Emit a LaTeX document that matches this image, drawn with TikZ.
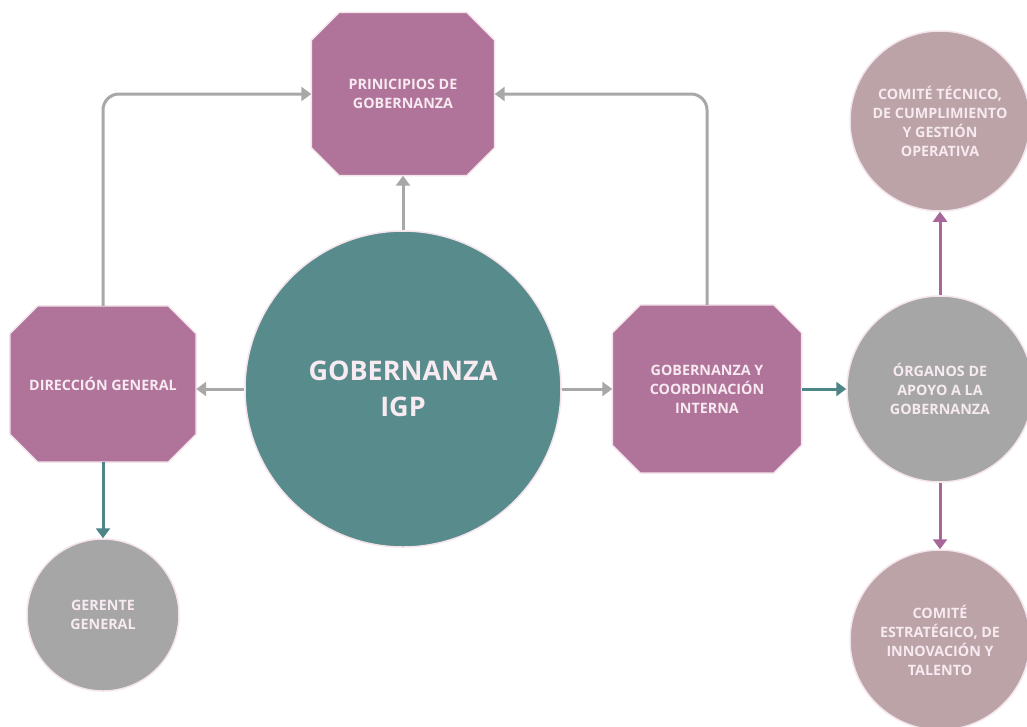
\documentclass[tikz,border=0pt]{standalone}
\usepackage{fontspec}
\setmainfont{Open Sans}
\usetikzlibrary{calc,arrows.meta,backgrounds}
\definecolor{mauve}{HTML}{B0739A}
\definecolor{tealc}{HTML}{588B8B}
\definecolor{grayc}{HTML}{A6A6A6}
\definecolor{rosec}{HTML}{BBA3A7}
\definecolor{txtc}{HTML}{F7EAF1}
\definecolor{arrgray}{HTML}{A8A8A8}
\definecolor{arrteal}{HTML}{4E8586}
\definecolor{arrmauve}{HTML}{A8679A}
\definecolor{edgec}{HTML}{F4E4EC}
\tikzset{
  octo/.style={rectangle, inner sep=0pt, align=center,
    text=txtc, font=\bfseries\fontsize{14.3}{19}\selectfont},
  octofill/.style={fill=mauve, draw=edgec, line width=1.5pt},
  circ/.style={circle, draw=edgec, line width=1.5pt, inner sep=0pt, align=center,
    text=txtc, font=\bfseries\fontsize{14.3}{19}\selectfont},
  conn/.style={line width=3pt, -{Triangle[width=14pt,length=10pt]}},
}
\newcommand\octoshape[2]{%
  \path[octofill] ($(#1.north west)+(#2,0)$) -- ($(#1.north east)+(-#2,0)$)
    -- ($(#1.north east)+(0,#2)$) -- ($(#1.south east)+(0,-#2)$)
    -- ($(#1.south east)+(-#2,0)$) -- ($(#1.south west)+(#2,0)$)
    -- ($(#1.south west)+(0,-#2)$) -- ($(#1.north west)+(0,#2)$) -- cycle;}
\begin{document}
\begin{tikzpicture}[x=1pt,y=-1pt]
\useasboundingbox (0,0) rectangle (1027,726);

\node[octo, minimum width=183pt, minimum height=163pt] (prin) at (403,94) {PRINICIPIOS DE\\GOBERNANZA};
\node[octo, minimum width=186pt, minimum height=156pt] (dir) at (103,384) {DIRECCIÓN GENERAL};
\node[octo, minimum width=189pt, minimum height=168pt] (gci) at (707,389) {GOBERNANZA Y\\COORDINACIÓN\\INTERNA};
\begin{scope}[on background layer]
  \fill[white] (0,0) rectangle (1027,726);
  \octoshape{prin}{28}
  \octoshape{dir}{28}
  \octoshape{gci}{28}
\end{scope}
\node[circ, fill=tealc, minimum size=316pt, font=\bfseries\fontsize{27}{36}\selectfont] (gob) at (403,389) {GOBERNANZA\\IGP};
\node[circ, fill=grayc, minimum size=186pt] (org) at (940,389) {ÓRGANOS DE\\APOYO A LA\\GOBERNANZA};
\node[circ, fill=rosec, minimum size=180pt] (tec) at (940,121) {COMITÉ TÉCNICO,\\DE CUMPLIMIENTO\\Y GESTIÓN\\OPERATIVA};
\node[circ, fill=rosec, minimum size=180pt] (est) at (940,640) {COMITÉ\\ESTRATÉGICO, DE\\INNOVACIÓN Y\\TALENTO};
\node[circ, fill=grayc, minimum size=152pt] (ger) at (103,615) {GERENTE\\GENERAL};

\draw[conn, arrgray] (gob.north) -- (prin.south);
\draw[conn, arrgray] (gob.west) -- (dir.east |- gob.west);
\draw[conn, arrgray] (gob.east) -- (gci.west);
\draw[conn, arrgray, rounded corners=16pt] (dir.north) |- (prin.west);
\draw[conn, arrgray, rounded corners=16pt] (gci.north) |- (prin.east);
\draw[conn, arrteal] (gci.east) -- (org.west);
\draw[conn, arrteal] (dir.south) -- (ger.north);
\draw[conn, arrmauve] (org.north) -- (tec.south);
\draw[conn, arrmauve] (org.south) -- (est.north);
\end{tikzpicture}
\end{document}
